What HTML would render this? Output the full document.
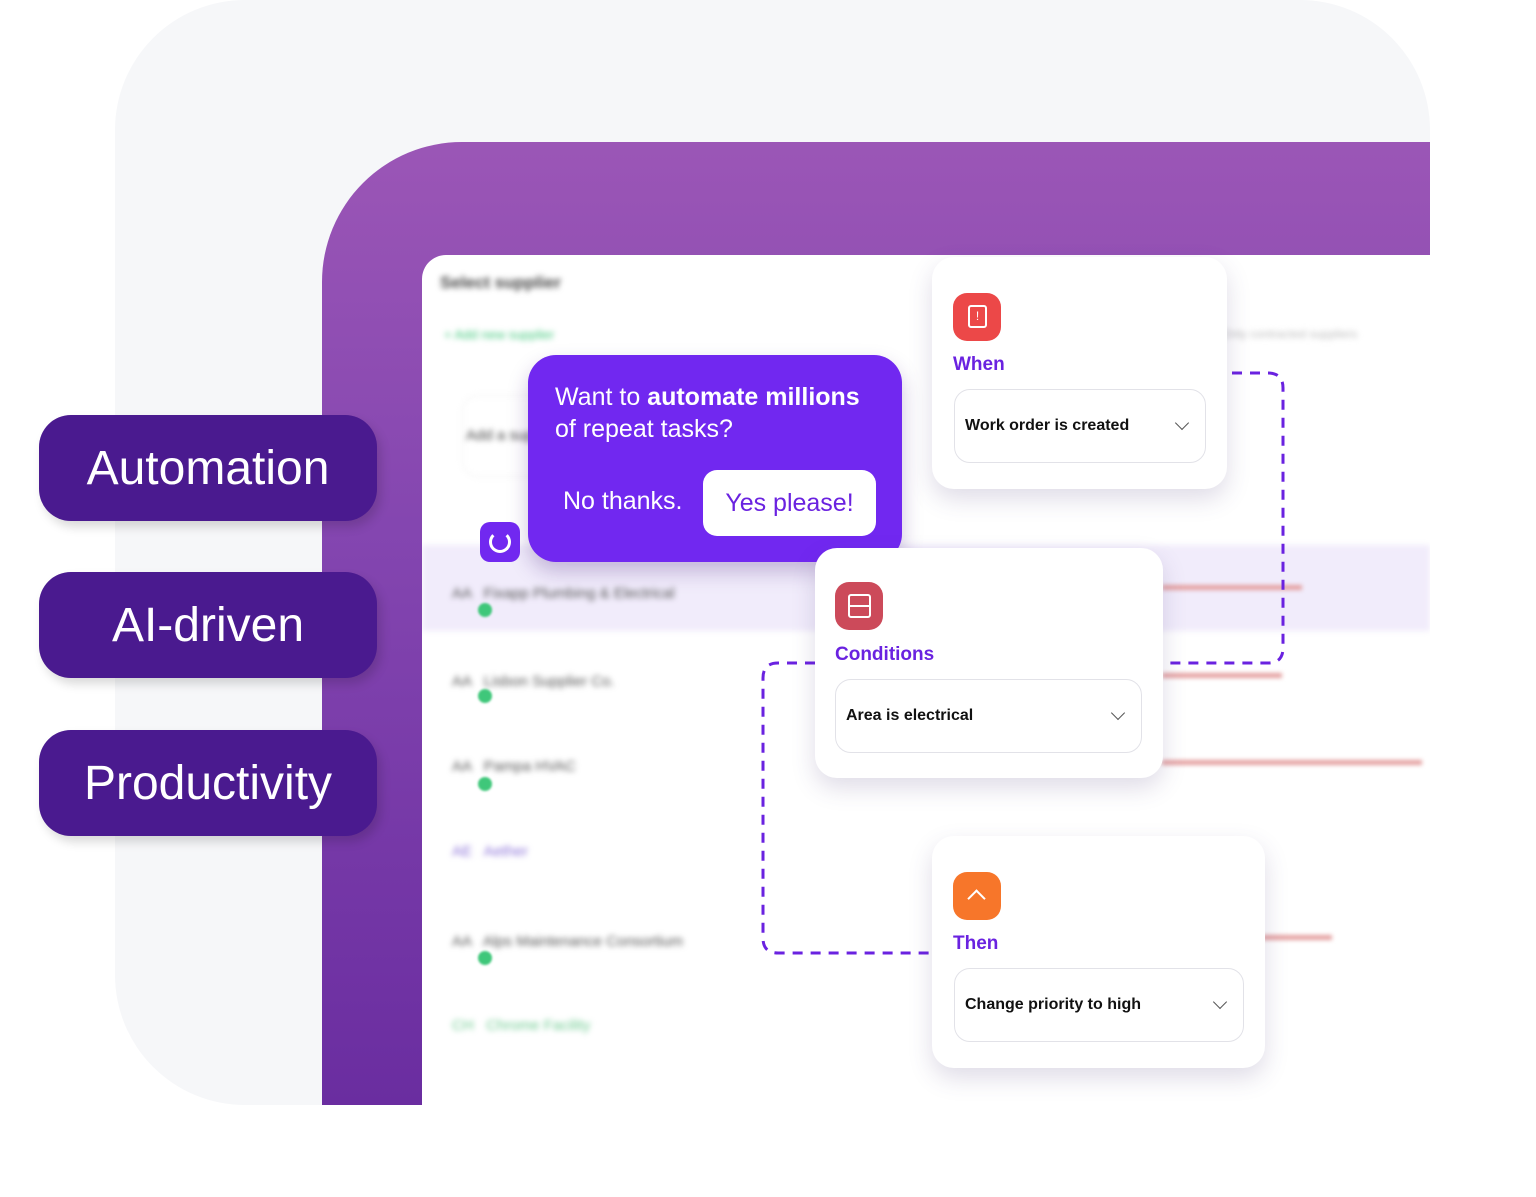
<!DOCTYPE html>
<html><head><style>
body{margin:0;width:1536px;height:1197px;background:#fff;position:relative;overflow:hidden;font-family:"Liberation Sans",sans-serif}
.abs{position:absolute}
.bg{left:115px;top:0;width:1315px;height:1105px;background:#f6f7f9;border-radius:130px 130px 0 130px}
.purple{left:322px;top:142px;width:1108px;height:963px;background:linear-gradient(180deg,#9b56b6 0%,#8446b0 40%,#6a2da0 100%);border-radius:140px 0 0 0}
.screen{left:422px;top:255px;width:1008px;height:850px;background:#fff;border-radius:24px 0 0 0;overflow:hidden}
.blur{filter:blur(3px);color:#777;font-size:15px}
.pill{left:39px;width:338px;height:106px;background:#4a1a8f;border-radius:32px;color:#fff;font-size:48px;display:flex;align-items:center;justify-content:center;box-shadow:4px 6px 10px rgba(0,0,0,.15)}
.card{background:#fff;border-radius:22px;box-shadow:0 10px 24px rgba(80,60,120,.18)}
.icon{width:48px;height:48px;border-radius:14px}
.lbl{color:#6a22e0;font-size:19px;font-weight:bold}
.sel{border:1.5px solid #e2e2e8;border-radius:16px;height:72px;display:flex;align-items:center;padding:0 10px;font-size:16px;font-weight:bold;color:#111;justify-content:space-between}
.chev{width:9px;height:9px;border-right:1.5px solid #555;border-bottom:1.5px solid #555;transform:rotate(45deg);margin:-6px 8px 0 0}
</style></head><body>
<div class="abs bg"></div>
<div class="abs purple"></div>
<div class="abs screen">
 <div class="abs blur" style="left:18px;top:18px;font-weight:bold;color:#444;font-size:17px">Select supplier</div>
 <div class="abs blur" style="left:22px;top:72px;color:#3fc77a;font-size:13px">+ Add new supplier</div>
 <div class="abs blur" style="left:40px;top:140px;width:300px;height:80px;border:1px solid #eee;border-radius:16px"></div>
 <div class="abs blur" style="left:44px;top:172px;color:#444">Add a supplier</div>
 <div class="abs blur" style="left:800px;top:72px;color:#bbb;font-size:12px">Only contracted suppliers</div>
 <div class="abs" style="left:0;top:290px;width:1008px;height:86px;background:#f1ecfb;filter:blur(3px)"></div>
 <div class="abs blur" style="left:30px;top:330px;color:#555">AA &nbsp; Fixapp Plumbing &amp; Electrical</div>
 <div class="abs blur" style="left:30px;top:418px;color:#555">AA &nbsp; Lisbon Supplier Co.</div>
 <div class="abs blur" style="left:30px;top:503px;color:#555">AA &nbsp; Pampa HVAC</div>
 <div class="abs blur" style="left:30px;top:588px;color:#8a70d8">AE &nbsp; Aether</div>
 <div class="abs blur" style="left:30px;top:678px;color:#555">AA &nbsp; Alps Maintenance Consortium</div>
 <div class="abs blur" style="left:30px;top:762px;color:#6bc98e">CH &nbsp; Chrome Facility</div>
 <div class="abs" style="left:56px;top:348px;width:14px;height:14px;border-radius:50%;background:#3fc77a;filter:blur(1px)"></div>
 <div class="abs" style="left:56px;top:434px;width:14px;height:14px;border-radius:50%;background:#3fc77a;filter:blur(1px)"></div>
 <div class="abs" style="left:56px;top:522px;width:14px;height:14px;border-radius:50%;background:#3fc77a;filter:blur(1px)"></div>
 <div class="abs" style="left:56px;top:696px;width:14px;height:14px;border-radius:50%;background:#3fc77a;filter:blur(1px)"></div>
 <div class="abs" style="left:740px;top:330px;width:140px;height:5px;background:#e4a0a0;filter:blur(2px)"></div>
 <div class="abs" style="left:740px;top:418px;width:120px;height:5px;background:#e4a0a0;filter:blur(2px)"></div>
 <div class="abs" style="left:740px;top:505px;width:260px;height:5px;background:#e4a0a0;filter:blur(2px)"></div>
 <div class="abs" style="left:840px;top:680px;width:70px;height:5px;background:#e4a0a0;filter:blur(2px)"></div>
</div>
<div class="abs pill" style="top:415px">Automation</div>
<div class="abs pill" style="top:572px">AI-driven</div>
<div class="abs pill" style="top:730px">Productivity</div>

<svg class="abs" style="left:0;top:0" width="1536" height="1197"><g fill="none" stroke="#6a22e0" stroke-width="3" stroke-dasharray="10 8">
<path d="M1232 373 H1268 Q1283 373 1283 388 V648 Q1283 663 1268 663 H1165"/>
<path d="M815 663 H778 Q763 663 763 678 V938 Q763 953 778 953 H932"/></g></svg>

<div class="abs" style="left:528px;top:355px;width:374px;height:207px;background:#7128f0;border-radius:28px;box-shadow:0 10px 20px rgba(60,20,120,.25)">
 <div class="abs" style="left:27px;top:26px;color:#fff;font-size:25px;line-height:32px">Want to <b>automate millions</b><br>of repeat tasks?</div>
 <div class="abs" style="left:35px;top:132px;color:#fff;font-size:25px">No thanks.</div>
 <div class="abs" style="left:175px;top:115px;width:173px;height:66px;background:#fff;border-radius:14px;color:#6a22e0;font-size:25px;display:flex;align-items:center;justify-content:center">Yes please!</div>
</div>
<div class="abs" style="left:480px;top:522px;width:40px;height:40px;background:#7128f0;border-radius:10px"><div style="margin:9px;width:16px;height:16px;border:3px solid #fff;border-radius:50%;border-top-color:transparent"></div></div>

<div class="abs card" style="left:932px;top:257px;width:295px;height:232px">
 <div class="abs icon" style="left:21px;top:36px;background:#ec4848"><div style="margin:12px 15px;width:15px;height:19px;border:2px solid #fff;border-radius:3px;color:#fff;font-size:12px;text-align:center;line-height:19px">!</div></div>
 <div class="abs lbl" style="left:21px;top:97px">When</div>
 <div class="abs sel" style="left:22px;top:132px;width:230px">Work order is created<span class="chev"></span></div>
</div>
<div class="abs card" style="left:815px;top:548px;width:348px;height:230px">
 <div class="abs icon" style="left:20px;top:34px;background:#cc4a5a"><div style="margin:12px 13px;width:19px;height:20px;border:2px solid #fff;border-radius:3px;background:linear-gradient(#cc4a5a 9px,#fff 9px,#fff 11px,#cc4a5a 11px)"></div></div>
 <div class="abs lbl" style="left:20px;top:96px">Conditions</div>
 <div class="abs sel" style="left:20px;top:131px;width:285px">Area is electrical<span class="chev"></span></div>
</div>
<div class="abs card" style="left:932px;top:836px;width:333px;height:232px">
 <div class="abs icon" style="left:21px;top:36px;background:#f7762a"><div style="margin:20px 0 0 17px;width:11px;height:11px;border-left:2px solid #fff;border-top:2px solid #fff;transform:rotate(45deg)"></div></div>
 <div class="abs lbl" style="left:21px;top:97px">Then</div>
 <div class="abs sel" style="left:22px;top:132px;width:268px">Change priority to high<span class="chev"></span></div>
</div>
</body></html>
